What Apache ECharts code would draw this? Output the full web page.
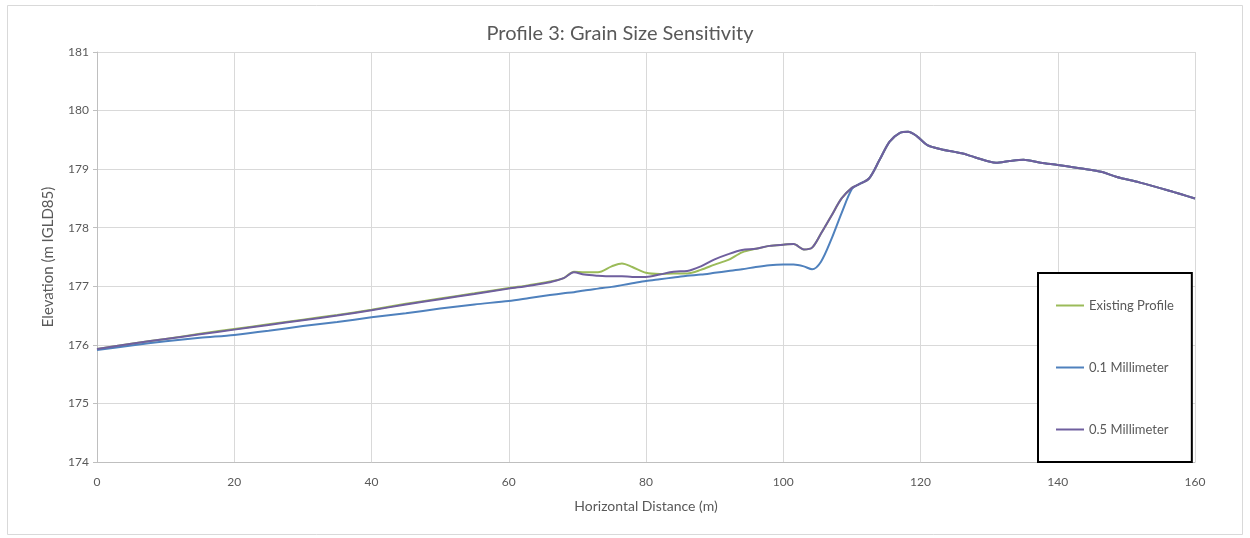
<!DOCTYPE html>
<html>
<head>
<meta charset="utf-8">
<script src="https://cdn.jsdelivr.net/npm/echarts@6/dist/echarts.min.js"></script>
<style>
html,body{margin:0;padding:0;background:#fff;}
#chart{width:1250px;height:538px;}
</style>
</head>
<body>
<div id="chart"></div>
<script>
const distance = [0,5,10,15,20,25,30,35,40,45,50,55,60,63,66,68,69.5,71,73,75,76.5,78,80,82,84,86,88,90,92,94,96,98,100,101.5,103,104.2,105.5,107,108.5,110,111,112.5,114,115.5,117,118.2,119.5,121,123,126,128,131,133,135,137.5,140,143.5,146.5,148.5,152,156,158,160];
const existingProfile = [175.93,176.02,176.10,176.19,176.27,176.35,176.43,176.51,176.60,176.70,176.79,176.88,176.97,177.02,177.08,177.14,177.25,177.24,177.24,177.34,177.39,177.33,177.23,177.21,177.22,177.22,177.28,177.37,177.45,177.58,177.64,177.69,177.71,177.72,177.63,177.66,177.90,178.20,178.50,178.68,178.74,178.84,179.15,179.47,179.62,179.64,179.56,179.41,179.34,179.27,179.20,179.11,179.14,179.16,179.11,179.07,179.01,178.95,178.87,178.77,178.64,178.57,178.50];
const mm01 = [175.91,175.99,176.06,176.12,176.17,176.24,176.32,176.39,176.47,176.54,176.62,176.69,176.75,176.80,176.85,176.88,176.90,176.93,176.96,176.99,177.02,177.05,177.09,177.12,177.15,177.18,177.20,177.23,177.26,177.29,177.33,177.36,177.37,177.37,177.34,177.29,177.42,177.80,178.25,178.66,178.74,178.84,179.15,179.47,179.62,179.64,179.56,179.41,179.34,179.27,179.20,179.11,179.14,179.16,179.11,179.07,179.01,178.95,178.87,178.77,178.64,178.57,178.50];
const mm05 = [175.93,176.02,176.10,176.18,176.26,176.34,176.42,176.50,176.59,176.69,176.78,176.87,176.96,177.01,177.07,177.14,177.24,177.20,177.18,177.17,177.17,177.16,177.16,177.20,177.25,177.26,177.34,177.46,177.55,177.62,177.64,177.69,177.71,177.72,177.63,177.66,177.90,178.20,178.50,178.68,178.74,178.84,179.15,179.47,179.62,179.64,179.56,179.41,179.34,179.27,179.20,179.11,179.14,179.16,179.11,179.07,179.01,178.95,178.87,178.77,178.64,178.57,178.50];
const seriesNames = ['Existing Profile','0.1 Millimeter','0.5 Millimeter'];
const chartTitle = 'Profile 3: Grain Size Sensitivity';
const xName = 'Horizontal Distance (m)';
const yName = 'Elevation (m IGLD85)';

const pairs = ys => distance.map((x,i)=>[x, ys[i]]);
const FONT = 'Lato';
const TXT = '#595959';

const chart = echarts.init(document.getElementById('chart'), null, {renderer:'canvas'});
chart.setOption({
  backgroundColor:'#ffffff',
  animation:false,
  textStyle:{fontFamily:FONT},
  title:{text:chartTitle, left:615, textAlign:'center', top:19,
    textStyle:{fontFamily:FONT, fontSize:20, fontWeight:'normal', color:TXT}},
  graphic:[{type:'rect', shape:{x:7.5,y:5.5,width:1235,height:529},
    style:{fill:'none', stroke:'#d9d9d9', lineWidth:1}, silent:true, z:-1}],
  grid:{left:97, right:55, top:52, bottom:76, containLabel:false},
  legend:{orient:'vertical', left:1038, top:273,
    padding:[26,18,26,17], itemGap:49, itemWidth:28, itemHeight:14,
    borderColor:'#000', borderWidth:2, backgroundColor:'#fff',
    itemStyle:{opacity:0},
    textStyle:{fontFamily:FONT, fontSize:13, color:TXT},
    data:seriesNames},
  xAxis:{type:'value', min:0, max:160, interval:20,
    name:xName, nameLocation:'middle', nameGap:37,
    nameTextStyle:{fontFamily:FONT, fontSize:14, color:TXT},
    axisLine:{lineStyle:{color:'#bfbfbf'}},
    axisTick:{show:false},
    axisLabel:{fontFamily:FONT, fontSize:12, color:TXT, margin:14},
    splitLine:{show:true, lineStyle:{color:'#d9d9d9'}}},
  yAxis:{type:'value', min:174, max:181, interval:1,
    name:yName, nameLocation:'middle', nameGap:41, nameRotate:90,
    nameTextStyle:{fontFamily:FONT, fontSize:15, color:TXT},
    axisLine:{show:true, lineStyle:{color:'#bfbfbf'}},
    axisTick:{show:true, length:4, lineStyle:{color:'#bfbfbf'}},
    axisLabel:{fontFamily:FONT, fontSize:12, color:TXT, margin:8},
    splitLine:{show:true, lineStyle:{color:'#d9d9d9'}}},
  series:[
    {name:seriesNames[0], type:'line', data:pairs(existingProfile), symbol:'none', smooth:0.3,
      lineStyle:{color:'#9BBB59', width:2}, itemStyle:{color:'#9BBB59'}},
    {name:seriesNames[1], type:'line', data:pairs(mm01), symbol:'none', smooth:0.3,
      lineStyle:{color:'#4F81BD', width:2}, itemStyle:{color:'#4F81BD'}},
    {name:seriesNames[2], type:'line', data:pairs(mm05), symbol:'none', smooth:0.3,
      lineStyle:{color:'#6F5F9E', width:2}, itemStyle:{color:'#6F5F9E'}}
  ]
});
</script>
</body>
</html>
